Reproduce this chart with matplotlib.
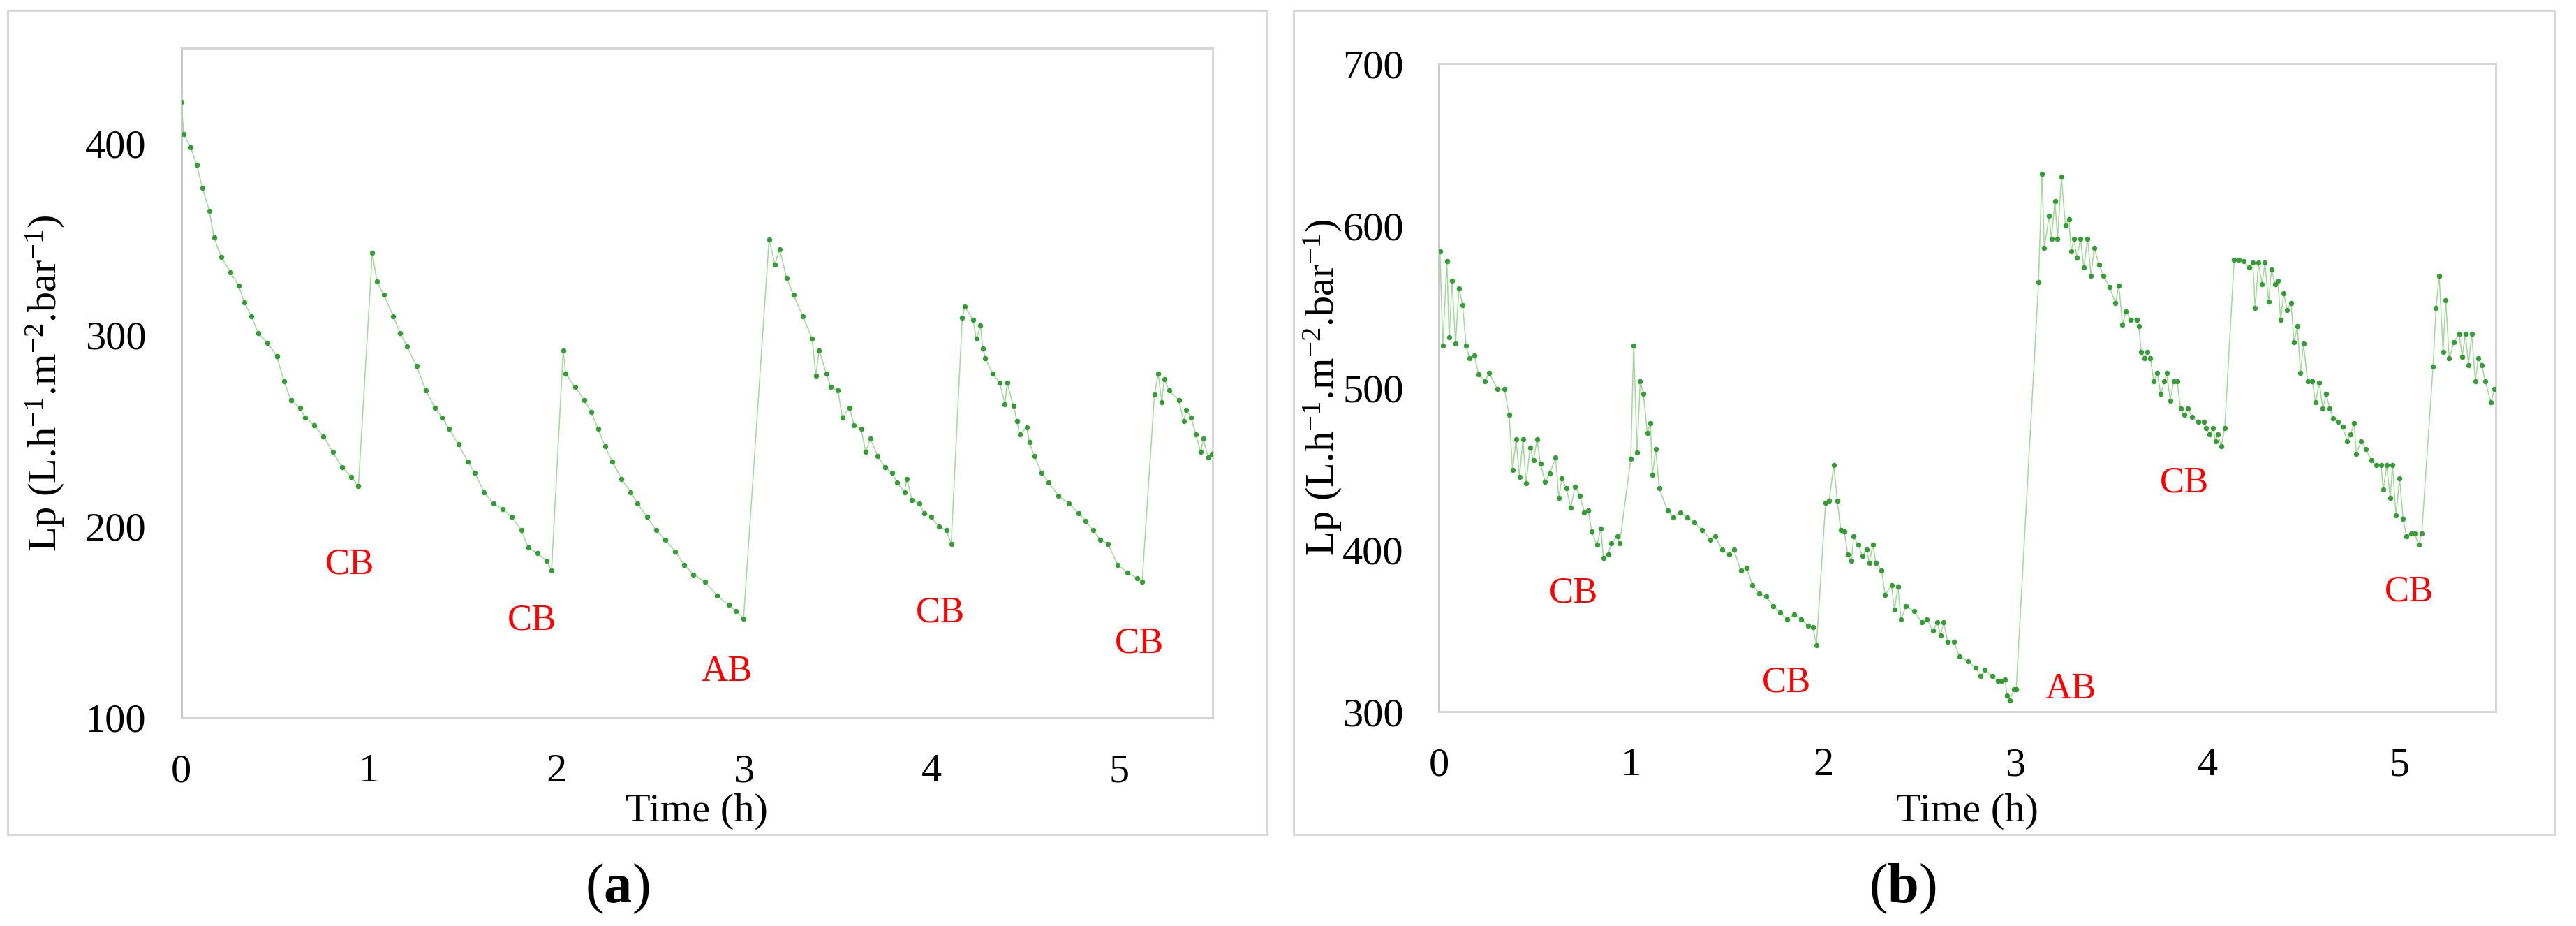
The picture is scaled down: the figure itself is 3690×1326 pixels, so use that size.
import matplotlib
matplotlib.use("Agg")
import matplotlib.pyplot as plt
from matplotlib.patches import Rectangle

plt.rcParams['font.family'] = ['Liberation Serif', 'DejaVu Serif']
plt.rcParams['mathtext.fontset'] = 'custom'
plt.rcParams['mathtext.rm'] = 'Liberation Serif'
plt.rcParams['mathtext.it'] = 'Liberation Serif:italic'
plt.rcParams['mathtext.bf'] = 'Liberation Serif:bold'

# panel (a): permeability, CB/AB cleaning every hour
a_time = [0.000, 0.014, 0.051, 0.083, 0.113, 0.150, 0.175, 0.213, 0.262, 0.306,
          0.337, 0.374, 0.411, 0.461, 0.510, 0.548, 0.585, 0.635, 0.660, 0.709,
          0.759, 0.808, 0.858, 0.908, 0.945,
          1.019, 1.044, 1.081, 1.131, 1.168, 1.205, 1.255, 1.305, 1.354, 1.392,
          1.429, 1.478, 1.528, 1.566, 1.615, 1.665, 1.715, 1.764, 1.814, 1.851,
          1.901, 1.950, 1.975,
          2.037, 2.050, 2.100, 2.150, 2.186, 2.223, 2.260, 2.298, 2.347, 2.397,
          2.434, 2.484, 2.534, 2.583, 2.633, 2.683, 2.732, 2.794, 2.857, 2.919,
          2.956, 2.999,
          3.135, 3.166, 3.191, 3.228, 3.265, 3.315, 3.365, 3.384, 3.402, 3.440,
          3.464, 3.502, 3.526, 3.564, 3.588, 3.626, 3.650, 3.675, 3.714, 3.753,
          3.792, 3.818, 3.857, 3.870, 3.896, 3.935, 3.962, 4.001, 4.040, 4.080,
          4.106,
          4.165, 4.178, 4.223, 4.240, 4.262, 4.275, 4.288, 4.327, 4.366, 4.392,
          4.405, 4.438, 4.457, 4.471, 4.510, 4.523, 4.549, 4.588, 4.627, 4.679,
          4.733, 4.785, 4.824, 4.863, 4.902, 4.942, 4.994, 5.046, 5.098, 5.124,
          5.190, 5.210, 5.229, 5.242, 5.268, 5.320, 5.346, 5.359, 5.385, 5.411,
          5.437, 5.450, 5.476, 5.496]
a_lp = [422, 405, 398, 389, 377, 365, 351, 341, 333, 326,
        317, 310, 301, 296, 289, 276, 266, 262, 257, 253,
        247, 239, 231, 226, 221,
        343, 328, 321, 310, 301, 294, 284, 271, 262, 257,
        251, 243, 234, 228, 218, 212, 209, 205, 198, 189,
        186, 182, 177,
        292, 280, 273, 266, 260, 251, 242, 234, 225, 218,
        212, 205, 198, 193, 187, 180, 175, 171, 164, 159,
        156, 152,
        350, 337, 345, 330, 321, 310, 298, 279, 292, 280,
        273, 271, 257, 262, 253, 251, 239, 246, 237, 231,
        228, 223, 218, 225, 214, 212, 207, 205, 200, 198,
        191,
        309, 315, 308, 298, 305, 293, 288, 280, 275, 264,
        275, 263, 255, 248, 252, 244, 237, 228, 223, 216,
        212, 207, 203, 198, 193, 191, 180, 176, 173, 171,
        269, 280, 265, 277, 271, 266, 255, 261, 257, 248,
        239, 246, 236, 238]

# panel (b)
b_time = [0.006, 0.021, 0.042, 0.054, 0.069, 0.087, 0.105, 0.124, 0.142, 0.160,
          0.184, 0.208, 0.239, 0.263, 0.305, 0.342, 0.366, 0.384, 0.402, 0.420,
          0.438, 0.454, 0.475, 0.493, 0.511, 0.529, 0.553, 0.578, 0.608, 0.624,
          0.641, 0.663, 0.687, 0.709, 0.735, 0.757, 0.778, 0.796, 0.823, 0.844,
          0.856, 0.881, 0.899, 0.929, 0.941,
          0.999, 1.014, 1.032, 1.048, 1.065, 1.085, 1.101, 1.111, 1.129, 1.147,
          1.190, 1.220, 1.256, 1.293, 1.329, 1.371, 1.414, 1.438, 1.475, 1.511,
          1.535, 1.572, 1.601, 1.632, 1.668, 1.704, 1.741, 1.777, 1.813, 1.850,
          1.886, 1.922, 1.947, 1.965,
          2.013, 2.031, 2.055, 2.074, 2.092, 2.110, 2.128, 2.147, 2.159, 2.183,
          2.204, 2.226, 2.240, 2.259, 2.274, 2.304, 2.323, 2.356, 2.371, 2.389,
          2.405, 2.431, 2.474, 2.513, 2.541, 2.571, 2.594, 2.611, 2.627, 2.649,
          2.680, 2.710, 2.752, 2.794, 2.819, 2.842, 2.879, 2.909, 2.927, 2.945,
          2.958, 2.972, 2.993, 3.005,
          3.121, 3.139, 3.151, 3.176, 3.188, 3.206, 3.220, 3.240, 3.261, 3.279,
          3.291, 3.305, 3.321, 3.339, 3.357, 3.376, 3.394, 3.410, 3.436, 3.460,
          3.491, 3.521, 3.539, 3.558, 3.576, 3.600, 3.631, 3.643, 3.655, 3.673,
          3.688, 3.703, 3.721, 3.739, 3.757, 3.776, 3.788, 3.806, 3.824, 3.842,
          3.860, 3.879, 3.897, 3.921, 3.951, 3.981, 3.994, 4.012, 4.030, 4.042,
          4.054, 4.072, 4.090,
          4.139, 4.163, 4.187, 4.218, 4.236, 4.248, 4.266, 4.284, 4.299, 4.318,
          4.333, 4.351, 4.366, 4.381, 4.397, 4.415, 4.435, 4.451, 4.468, 4.484,
          4.500, 4.521, 4.545, 4.563, 4.582, 4.600, 4.618, 4.636, 4.654, 4.678,
          4.703, 4.727, 4.745, 4.763, 4.775, 4.800, 4.824, 4.854, 4.878, 4.903,
          4.915, 4.933, 4.951, 4.963, 4.981, 5.000, 5.018, 5.036, 5.060, 5.078,
          5.099, 5.115,
          5.174, 5.189, 5.206, 5.226, 5.240, 5.258, 5.283, 5.310, 5.325, 5.343,
          5.358, 5.375, 5.394, 5.409, 5.427, 5.445, 5.475, 5.494]
b_lp = [584, 526, 578, 531, 566, 527, 561, 551, 526, 518,
        520, 508, 504, 509, 499, 499, 483, 449, 468, 445,
        468, 441, 463, 455, 468, 453, 442, 447, 457, 432,
        444, 438, 426, 439, 433, 423, 424, 411, 403, 413,
        395, 397, 404, 408, 404,
        456, 526, 460, 504, 496, 472, 478, 446, 462, 438,
        424, 420, 423, 420, 417, 412, 406, 408, 400, 397,
        400, 387, 389, 378, 373, 371, 365, 361, 357, 360,
        357, 353, 352, 341,
        429, 430, 452, 430, 412, 411, 397, 393, 408, 403,
        396, 400, 392, 403, 392, 387, 372, 378, 363, 377,
        357, 365, 362, 355, 357, 350, 355, 347, 355, 343,
        343, 334, 331, 327, 322, 326, 322, 319, 319, 320,
        310, 307, 314, 314,
        565, 632, 586, 606, 592, 615, 592, 630, 600, 604,
        584, 592, 580, 592, 574, 592, 569, 586, 576, 569,
        562, 552, 563, 539, 547, 542, 542, 538, 522, 518,
        522, 518, 504, 509, 496, 504, 509, 492, 504, 504,
        487, 483, 487, 482, 479, 479, 475, 471, 475, 467,
        471, 464, 475,
        579, 579, 578, 574, 577, 549, 577, 564, 577, 553,
        573, 564, 566, 542, 558, 548, 552, 528, 538, 509,
        527, 504, 504, 491, 503, 487, 496, 487, 481, 479,
        476, 467, 471, 478, 459, 467, 462, 455, 452, 452,
        437, 452, 432, 452, 421, 444, 419, 408, 410, 410,
        403, 410,
        513, 549, 569, 522, 554, 518, 528, 533, 519, 533,
        514, 533, 504, 518, 514, 504, 491, 499]

# cleaning labels (text, time, Lp)
a_notes = [("CB", 0.90, 180), ("CB", 1.87, 151), ("AB", 2.91, 124),
           ("CB", 4.05, 155), ("CB", 5.11, 139)]
b_notes = [("CB", 0.70, 373), ("CB", 1.81, 318), ("AB", 3.29, 314),
           ("CB", 3.88, 441), ("CB", 5.05, 374)]

W, H = 3691, 1326
fig = plt.figure(figsize=(W / 100, H / 100), dpi=100)

ylab = r"Lp (L.h$^{-1}$.m$^{-2}$.bar$^{-1}$)"
FS = 42


def frame(x0, x1, y0, y1):
	fig.add_artist(Rectangle((x0 / W, 1 - y1 / H), (x1 - x0) / W, (y1 - y0) / H,
	                         transform=fig.transFigure, fill=False,
	                         edgecolor="#d9d9d9", lw=2.2))


def panel(box, t, lp, notes, ylim, yticks, ylab_x, tag, tag_x):
	left, right, top, bottom = box
	ax = fig.add_axes([left / W, 1 - bottom / H, (right - left) / W, (bottom - top) / H])
	ax.plot(t, lp, color="#a3d89c", lw=1.1, marker="o", ms=4.4,
	        mfc="#389a38", mec="#389a38", zorder=3)
	ax.set_xlim(0, 5.5)
	ax.set_ylim(*ylim)
	ax.set_xticks([0, 1, 2, 3, 4, 5])
	ax.set_yticks(yticks)
	ax.tick_params(length=0, labelsize=FS, colors="black")
	ax.tick_params(axis="x", pad=37)
	ax.tick_params(axis="y", pad=36)
	for s in ax.spines.values():
		s.set_color("#d3d3d3")
		s.set_linewidth(2)
	ax.spines["left"].set_color("#c4c4c4")
	for txt, x, y in notes:
		ax.text(x, y, txt, color="#ff0000", fontsize=38, ha="center", va="center")
	cx = (left + right) / 2
	fig.text(cx / W, 1 - 1162 / H, "Time (h)", fontsize=FS, ha="center", va="center")
	fig.text(ylab_x / W, 1 - (top + bottom) / 2 / H, ylab, fontsize=FS,
	         rotation=90, ha="center", va="center")
	fig.text(tag_x / W, 1 - 1273 / H, "(" + r"$\mathbf{" + tag + "}$" + ")",
	         fontsize=58, ha="center", va="center")
	return ax


frame(11, 1815, 15, 1195)
frame(1853, 3659, 15, 1195)

panel((259.5, 1737, 69, 1028), a_time, a_lp, a_notes, (100, 450),
      [100, 200, 300, 400], 65, "a", 884)
panel((2061, 3575, 91, 1019), b_time, b_lp, b_notes, (300, 700),
      [300, 400, 500, 600, 700], 1895, "b", 2725)

fig.savefig("out.png", dpi=100)
